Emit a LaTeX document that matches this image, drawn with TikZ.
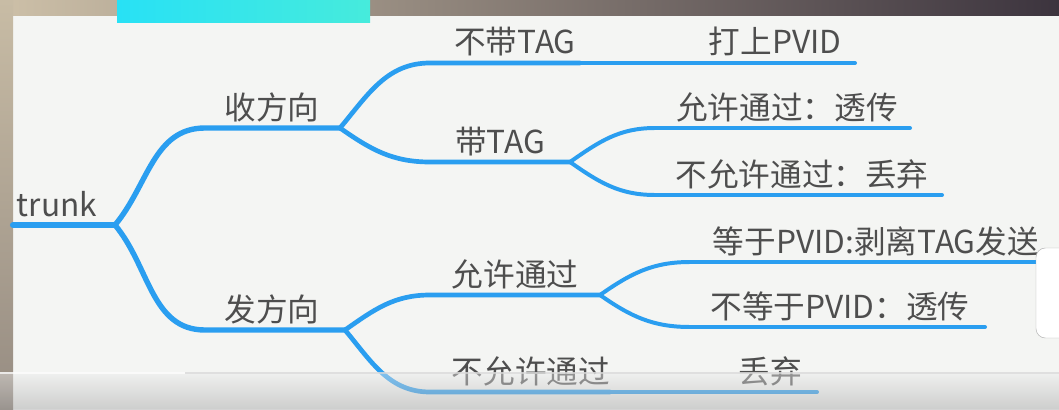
\documentclass[tikz,border=0pt]{standalone}
\usepackage{fontspec}
\setmainfont{Noto Sans CJK SC}
\definecolor{branch}{RGB}{42,158,240}
\definecolor{txt}{RGB}{78,78,78}
\definecolor{panel}{RGB}{244,245,243}
\begin{document}
\begin{tikzpicture}[x=.03cm,y=.03cm,
    lbl/.style={anchor=base,inner sep=0pt,text=txt,font=\fontsize{27}{27}\selectfont},
    lv0/.style={draw=branch,line width=5.2pt,line cap=round},
    lv1/.style={draw=branch,line width=4.6pt,line cap=round},
    lv2/.style={draw=branch,line width=4pt,line cap=round},
    lv3/.style={draw=branch,line width=3.4pt,line cap=round}]
\useasboundingbox (0,0) rectangle (1059,409);
\fill[panel] (0,0) rectangle (1059,409);
\shade[left color={rgb,255:red,205;green,192;blue,168},right color={rgb,255:red,60;green,52;blue,62}] (0,393) rectangle (1059,409);
\shade[top color={rgb,255:red,200;green,188;blue,165},bottom color={rgb,255:red,150;green,140;blue,130}] (0,0) rectangle (13,409);
\shade[left color={rgb,255:red,40;green,225;blue,245},right color={rgb,255:red,70;green,235;blue,220}] (117,386) rectangle (370,409);
\begin{scope}
    \coordinate(R0) at (13,184);
    \coordinate(R1) at (115,184);
    \node[lbl](R) at (57,193){trunk};
    \draw[lv0](R0)--(R1);
\end{scope}
\begin{scope}
    \coordinate(A0) at (205,281);
    \coordinate(A1) at (340,281);
    \node[lbl](A) at (272,290){收方向};
    \coordinate(B0) at (205,79);
    \coordinate(B1) at (345,79);
    \node[lbl](B) at (272,88){发方向};
    \draw[lv1](R1) to[out=50,in=180] (A0)--(A1);
    \draw[lv1](R1) to[out=-50,in=180] (B0)--(B1);
\end{scope}
\begin{scope}
    \coordinate(C0) at (430,346);
    \coordinate(C1) at (580,346);
    \node[lbl](C) at (515,355){不带TAG};
    \coordinate(D0) at (430,247);
    \coordinate(D1) at (570,247);
    \node[lbl](D) at (500,256){带TAG};
    \coordinate(H0) at (430,114);
    \coordinate(H1) at (600,114);
    \node[lbl](H) at (515,123){允许通过};
    \coordinate(K0) at (430,17);
    \coordinate(K1) at (610,17);
    \node[lbl](K) at (531,26){不允许通过};
    \draw[lv2](A1) to[out=50,in=180] (C0)--(C1);
    \draw[lv2](A1) to[out=-35,in=180] (D0)--(D1);
    \draw[lv2](B1) to[out=35,in=180] (H0)--(H1);
    \draw[lv2](B1) to[out=-50,in=180] (K0)--(K1);
\end{scope}
\begin{scope}
    \coordinate(E1) at (855,346);
    \node[lbl](E) at (775,355){打上PVID};
    \coordinate(F0) at (655,281);
    \coordinate(F1) at (910,281);
    \node[lbl](F) at (787,290){允许通过：透传};
    \coordinate(G0) at (655,214);
    \coordinate(G1) at (942,214);
    \node[lbl](G) at (802,223){不允许通过：丢弃};
    \coordinate(M0) at (690,147);
    \coordinate(M1) at (1040,147);
    \node[lbl](M) at (876,156){等于PVID:剥离TAG发送};
    \coordinate(N0) at (690,82);
    \coordinate(N1) at (985,82);
    \node[lbl](N) at (840,91){不等于PVID：透传};
    \coordinate(L1) at (817,17);
    \node[lbl](L) at (770,26){丢弃};
    \draw[lv3](C1)--(E1);
    \draw[lv3](D1) to[out=35,in=180] (F0)--(F1);
    \draw[lv3](D1) to[out=-35,in=180] (G0)--(G1);
    \draw[lv3](H1) to[out=35,in=180] (M0)--(M1);
    \draw[lv3](H1) to[out=-35,in=180] (N0)--(N1);
    \draw[lv3](K1)--(L1);
\end{scope}
\shade[top color=gray!15,bottom color=gray!75,opacity=.45] (0,0) rectangle (1059,37);
\draw[white,opacity=.7,line width=1pt] (0,36)--(185,36);
\draw[gray!30,opacity=.7,line width=1pt] (185,36)--(1059,36);
\draw[gray!60,fill=white,rounded corners=8pt] (1036,71) rectangle (1075,161);
\end{tikzpicture}
\end{document}
